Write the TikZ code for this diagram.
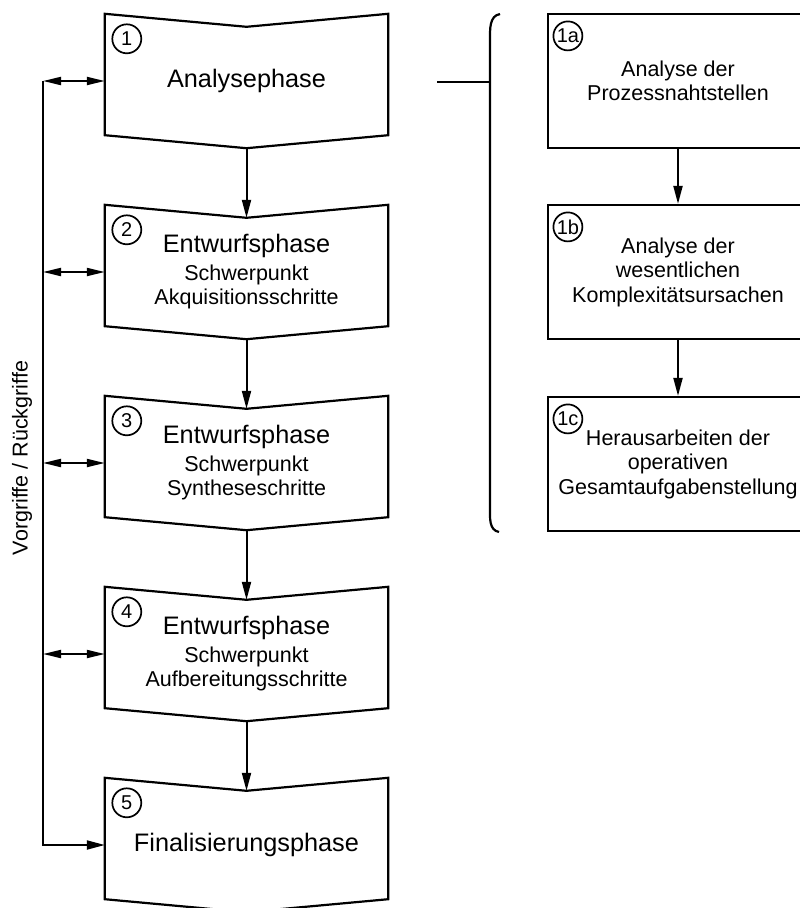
\documentclass[tikz,border=0pt]{standalone}
\usepackage{fontspec}
\setmainfont{Liberation Sans}
\usetikzlibrary{arrows.meta,positioning}
\newcommand\subfont{\fontsize{21.5}{24.5}\selectfont}
\newcommand\bigfont{\fontsize{25.3}{30}\selectfont}
\tikzset{
  lab/.style={font=\subfont},
  outline/.style={line width=2.2pt, line join=miter},
  phase/.style={minimum width=283pt, minimum height=108pt, inner sep=0pt,
    align=center, font=\subfont},
  title/.style={font=\bigfont},
  stepbox/.style={draw, line width=2.2pt, minimum width=260pt, minimum height=134pt,
    inner sep=0pt, align=center, font=\subfont},
  num/.style={circle, draw, line width=1.7pt, minimum size=29pt, inner sep=0.5pt,
    font=\fontsize{20}{21}\selectfont},
  flow/.style={line width=2pt, -{Triangle[length=18pt,width=9pt]}},
  both/.style={line width=2pt, {Triangle[length=18pt,width=8pt]}-{Triangle[length=18pt,width=8pt]}}
}

\begin{document}
\begin{tikzpicture}[x=1pt,y=-1pt]
\clip (0,0) rectangle (800,908);
\node[phase,title] (p1) at (246.5,81) {Analysephase};
\node[phase] (p2) at (246.5,272) {{\bigfont Entwurfsphase}\\[3pt]Schwerpunkt\\Akquisitionsschritte};
\node[phase] (p3) at (246.5,463) {{\bigfont Entwurfsphase}\\[3pt]Schwerpunkt\\Syntheseschritte};
\node[phase] (p4) at (246.5,654) {{\bigfont Entwurfsphase}\\[3pt]Schwerpunkt\\Aufbereitungsschritte};
\node[phase,title] (p5) at (246.5,845) {Finalisierungsphase};
\foreach \i in {1,...,5}{
  \draw[outline] ([yshift=13pt]p\i.north west) -- (p\i.north) -- ([yshift=13pt]p\i.north east)
    -- (p\i.south east) -- ([yshift=-13pt]p\i.south) -- (p\i.south west) -- cycle;
  \node[num] (n\i) at ([xshift=22pt,yshift=-12pt]p\i.north west) {\i};
}
\foreach \i/\j in {1/2,2/3,3/4,4/5}
  \draw[flow] ([yshift=-13pt]p\i.south) -- (p\j.north);

\coordinate (bus) at (43,81);
\foreach \i in {1,...,4}
  \draw[both] (p\i.west -| bus) -- (p\i.west);
\draw[flow] (bus) |- (p5.west);
\node[lab, rotate=90] (side) at (22,458) {Vorgriffe / Rückgriffe};

\coordinate (brin) at (437,82);
\coordinate (brmid) at (490,82);
\draw[outline] (500,14) to[out=190,in=90] (490,40) -- (490,507) to[out=-90,in=170] (499,532);
\draw[outline] (brin) -- (brmid);

\node[stepbox] (r1) at (678,81) {Analyse der\\Prozessnahtstellen};
\node[stepbox] (r2) at (678,272) {Analyse der\\wesentlichen\\Komplexitätsursachen};
\node[stepbox] (r3) at (678,464) {Herausarbeiten der\\operativen\\Gesamtaufgabenstellung};
\foreach \r/\t in {r1/1a,r2/1b,r3/1c}
  \node[num] (n\t) at ([xshift=21pt,yshift=-23pt]\r.north west) {\t};
\draw[flow] (r1) -- (r2);
\draw[flow] (r2) -- (r3);
\end{tikzpicture}
\end{document}
